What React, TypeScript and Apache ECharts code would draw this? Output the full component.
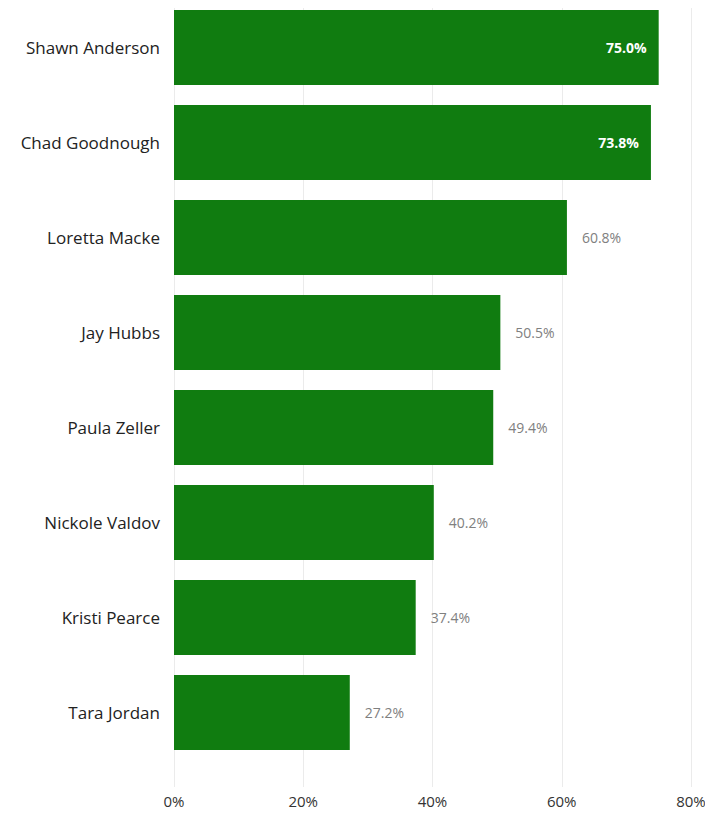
import React, { useEffect, useRef } from "react";
import * as echarts from "echarts";

const categories = [
  "Shawn Anderson",
  "Chad Goodnough",
  "Loretta Macke",
  "Jay Hubbs",
  "Paula Zeller",
  "Nickole Valdov",
  "Kristi Pearce",
  "Tara Jordan",
];
const values = [75.0, 73.8, 60.8, 50.5, 49.4, 40.2, 37.4, 27.2];
const insideLabels = [true, true, false, false, false, false, false, false];
const xTicks = [0, 20, 40, 60, 80];

const FONT = "'Open Sans', 'Noto Sans', sans-serif";

export default function App() {
  const ref = useRef<HTMLDivElement>(null);
  useEffect(() => {
    if (!ref.current) return;
    const chart = echarts.init(ref.current, undefined, { renderer: "svg" });
    const data = values.map((v, i) => ({
      value: v,
      label: insideLabels[i]
        ? {
            show: true,
            position: "insideRight",
            distance: 12,
            color: "#ffffff",
            fontWeight: "bold",
            fontSize: 14,
            fontFamily: FONT,
          }
        : {
            show: true,
            position: "right",
            distance: 15,
            color: "#808080",
            fontSize: 14,
            fontFamily: FONT,
          },
    }));
    chart.setOption({
      animation: false,
      grid: [
        { left: 174, right: 22, top: -5, bottom: 55, containLabel: false },
        { left: 174, right: 22, top: 0, bottom: 28, containLabel: false },
      ],
      xAxis: [
        {
          gridIndex: 0,
          type: "value",
          min: 0,
          max: 80,
          interval: 20,
          show: false,
        },
        {
          gridIndex: 1,
          type: "value",
          min: xTicks[0],
          max: xTicks[xTicks.length - 1],
          interval: 20,
          axisLine: { show: false },
          axisTick: { show: false },
          splitLine: { show: true, lineStyle: { color: "#ebebeb", width: 1 } },
          axisLabel: {
            formatter: (v: number) => v + "%",
            color: "#333333",
            fontSize: 15,
            fontFamily: FONT,
            margin: 6,
          },
        },
      ],
      yAxis: [
        {
          gridIndex: 0,
          type: "category",
          data: categories,
          inverse: true,
          axisLine: { show: false },
          axisTick: { show: false },
          axisLabel: {
            color: "#222222",
            fontSize: 17,
            fontFamily: FONT,
            margin: 14,
          },
        },
        {
          gridIndex: 1,
          type: "value",
          show: false,
        },
      ],
      series: [
        {
          type: "bar",
          xAxisIndex: 0,
          yAxisIndex: 0,
          data,
          barCategoryGap: "21%",
          itemStyle: { color: "#107C10" },
          label: {
            formatter: (p: any) => p.value.toFixed(1) + "%",
          },
        },
      ],
    });
    return () => chart.dispose();
  }, []);
  return <div ref={ref} style={{ width: 713, height: 815, margin: -8 }} />;
}
